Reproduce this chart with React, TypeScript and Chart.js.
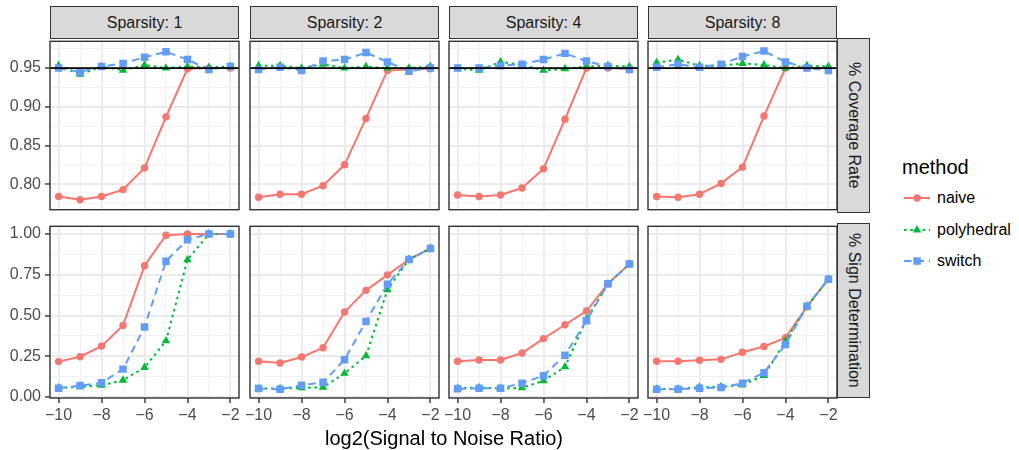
import React, { useEffect, useRef } from "react";
import { Chart, registerables } from "chart.js";

Chart.register(...registerables);

const FONT = '"Liberation Sans", Arial, Helvetica, sans-serif';

// ---------- data ----------
const snr = [-10, -9, -8, -7, -6, -5, -4, -3, -2];
const sparsityLabels = ["Sparsity: 1", "Sparsity: 2", "Sparsity: 4", "Sparsity: 8"];
const rowLabels = ["% Coverage Rate", "% Sign Determination"];
const methods = ["naive", "polyhedral", "switch"];
const coverageTarget = 0.95;

const covNaiveS1 = [0.784, 0.780, 0.784, 0.793, 0.821, 0.887, 0.949, 0.950, 0.950];
const covPolyS1 = [0.953, 0.942, 0.952, 0.947, 0.954, 0.950, 0.952, 0.951, 0.952];
const covSwitchS1 = [0.950, 0.945, 0.952, 0.956, 0.964, 0.971, 0.961, 0.948, 0.952];

const covNaiveS2 = [0.783, 0.787, 0.787, 0.798, 0.825, 0.885, 0.947, 0.948, 0.949];
const covPolyS2 = [0.953, 0.953, 0.950, 0.955, 0.950, 0.952, 0.950, 0.950, 0.952];
const covSwitchS2 = [0.948, 0.951, 0.947, 0.959, 0.961, 0.970, 0.958, 0.946, 0.950];

const covNaiveS4 = [0.786, 0.784, 0.786, 0.795, 0.820, 0.884, 0.950, 0.950, 0.949];
const covPolyS4 = [0.949, 0.947, 0.958, 0.954, 0.947, 0.949, 0.952, 0.953, 0.952];
const covSwitchS4 = [0.950, 0.950, 0.953, 0.955, 0.961, 0.969, 0.959, 0.952, 0.948];

const covNaiveS8 = [0.784, 0.783, 0.787, 0.801, 0.822, 0.888, 0.950, 0.950, 0.950];
const covPolyS8 = [0.957, 0.961, 0.953, 0.953, 0.956, 0.954, 0.950, 0.953, 0.952];
const covSwitchS8 = [0.951, 0.955, 0.951, 0.955, 0.965, 0.972, 0.958, 0.950, 0.947];

const signNaiveS1 = [0.217, 0.247, 0.312, 0.439, 0.805, 0.992, 1.0, 1.0, 1.0];
const signPolyS1 = [0.056, 0.062, 0.072, 0.103, 0.181, 0.344, 0.841, 1.0, 1.0];
const signSwitchS1 = [0.054, 0.070, 0.087, 0.171, 0.429, 0.833, 0.964, 1.0, 1.0];

const signNaiveS2 = [0.219, 0.209, 0.245, 0.302, 0.521, 0.654, 0.749, 0.843, 0.911];
const signPolyS2 = [0.052, 0.052, 0.056, 0.060, 0.145, 0.252, 0.658, 0.843, 0.911];
const signSwitchS2 = [0.052, 0.048, 0.072, 0.090, 0.229, 0.463, 0.692, 0.843, 0.911];

const signNaiveS4 = [0.219, 0.227, 0.227, 0.270, 0.358, 0.443, 0.527, 0.694, 0.815];
const signPolyS4 = [0.054, 0.058, 0.052, 0.056, 0.100, 0.185, 0.477, 0.694, 0.815];
const signSwitchS4 = [0.050, 0.054, 0.054, 0.085, 0.131, 0.256, 0.467, 0.694, 0.815];

const signNaiveS8 = [0.219, 0.219, 0.225, 0.231, 0.274, 0.310, 0.364, 0.553, 0.722];
const signPolyS8 = [0.048, 0.050, 0.060, 0.062, 0.074, 0.131, 0.342, 0.557, 0.722];
const signSwitchS8 = [0.048, 0.048, 0.054, 0.058, 0.085, 0.149, 0.322, 0.557, 0.722];

// ticks
const xMajorTicks = [-10, -8, -6, -4, -2];
const xMinorTicks = [-9, -7, -5, -3];
const covMajorTicks = [0.8, 0.85, 0.9, 0.95];
const covMinorTicks = [0.775, 0.825, 0.875, 0.925, 0.975];
const signMajorTicks = [0, 0.25, 0.5, 0.75, 1.0];
const signMinorTicks = [0.125, 0.375, 0.625, 0.875];
const xRange = [-10.4, -1.6];
const covRange = [0.767, 0.9846];
const signRange = [-0.006, 1.0465];

const coverageData = [
  [covNaiveS1, covPolyS1, covSwitchS1],
  [covNaiveS2, covPolyS2, covSwitchS2],
  [covNaiveS4, covPolyS4, covSwitchS4],
  [covNaiveS8, covPolyS8, covSwitchS8],
];
const signData = [
  [signNaiveS1, signPolyS1, signSwitchS1],
  [signNaiveS2, signPolyS2, signSwitchS2],
  [signNaiveS4, signPolyS4, signSwitchS4],
  [signNaiveS8, signPolyS8, signSwitchS8],
];

// ---------- style ----------
const methodColors = ["#F8766D", "#00BA38", "#619CFF"];
const methodDash = [[], [2.6, 3.6], [7.5, 5]];
const methodPoint = ["circle", "triangle", "rect"];
const methodRadius = [3.7, 4.9, 5.3];

const PANEL_LEFTS = [50, 250, 449, 648];
const PANEL_W = 189;
const PANEL_TOPS = [38, 223];
const PANEL_H = 175;
const STRIP_COL = "#D9D9D9";
const BORDER = "#333333";

const isIn = (arr: number[], v: number) => arr.some((m) => Math.abs(m - v) < 1e-9);
const fmtX = (v: number) => (v < 0 ? "\u2212" + Math.abs(v) : String(v));

const borderPlugin = {
  id: "panelBorder",
  afterDatasetsDraw(chart: any) {
    const { ctx, chartArea: a } = chart;
    ctx.save();
    ctx.strokeStyle = BORDER;
    ctx.lineWidth = 1.4;
    ctx.strokeRect(a.left, a.top, a.right - a.left, a.bottom - a.top);
    ctx.restore();
  },
};

function Panel({ row, col }: { row: number; col: number }) {
  const ref = useRef<HTMLCanvasElement>(null);
  const padL = col === 0 ? 50 : 10;
  const padR = 6;
  const padT = 2;
  const padB = row === 1 ? 32 : 2;
  const w = padL + PANEL_W + padR;
  const h = padT + PANEL_H + padB;

  useEffect(() => {
    if (!ref.current) return;
    const series = row === 0 ? coverageData[col] : signData[col];
    const yMajor = row === 0 ? covMajorTicks : signMajorTicks;
    const yMinor = row === 0 ? covMinorTicks : signMinorTicks;
    const yRange = row === 0 ? covRange : signRange;
    const yTicks = [...yMajor, ...yMinor].sort((a, b) => a - b);
    const xTicks = [...xMajorTicks, ...xMinorTicks].sort((a, b) => a - b);

    const datasets: any[] = methods.map((m, i) => ({
      label: m,
      data: snr.map((x, k) => ({ x, y: series[i][k] })),
      borderColor: methodColors[i],
      backgroundColor: methodColors[i],
      borderWidth: 2,
      borderDash: methodDash[i],
      pointStyle: methodPoint[i],
      pointRadius: methodRadius[i],
      pointHoverRadius: methodRadius[i],
      pointBackgroundColor: methodColors[i],
      pointBorderColor: methodColors[i],
      pointBorderWidth: 0,
      tension: 0,
      fill: false,
      order: 3 - i,
    }));
    if (row === 0) {
      datasets.push({
        label: "target",
        data: [
          { x: xRange[0], y: coverageTarget },
          { x: xRange[1], y: coverageTarget },
        ],
        borderColor: "#000000",
        borderWidth: 1.8,
        pointRadius: 0,
        fill: false,
        order: 0,
      });
    }

    const chart = new Chart(ref.current, {
      type: "line",
      data: { datasets },
      plugins: [borderPlugin],
      options: {
        animation: false,
        responsive: false,
        events: [],
        layout: { padding: { top: padT, right: padR, left: 0, bottom: 0 } },
        plugins: {
          legend: { display: false },
          tooltip: { enabled: false },
          title: { display: false },
        },
        scales: {
          x: {
            type: "linear",
            min: xRange[0],
            max: xRange[1],
            bounds: "data",
            afterBuildTicks: (s: any) => {
              s.ticks = xTicks.map((v) => ({ value: v }));
            },
            afterFit: (s: any) => {
              s.height = padB;
              s.paddingLeft = 0;
              s.paddingRight = 0;
              s.paddingTop = 0;
              s.paddingBottom = 0;
            },
            grid: {
              color: (c: any) => (isIn(xMajorTicks, c.tick?.value) ? "#EBEBEB" : "#F2F2F2"),
              lineWidth: (c: any) => (isIn(xMajorTicks, c.tick?.value) ? 1.9 : 1),
              drawTicks: row === 1,
              tickLength: 5,
              tickWidth: 1.4,
              tickColor: (c: any) => (isIn(xMajorTicks, c.tick?.value) ? BORDER : "rgba(0,0,0,0)"),
            },
            border: { display: false },
            ticks: {
              display: row === 1,
              autoSkip: false,
              maxRotation: 0,
              minRotation: 0,
              padding: 3,
              color: "#4D4D4D",
              font: { family: FONT, size: 16 },
              callback: (v: any) => (isIn(xMajorTicks, Number(v)) ? fmtX(Number(v)) : ""),
            },
          },
          y: {
            type: "linear",
            min: yRange[0],
            max: yRange[1],
            bounds: "data",
            afterBuildTicks: (s: any) => {
              s.ticks = yTicks.map((v) => ({ value: v }));
            },
            afterFit: (s: any) => {
              s.width = padL;
              s.paddingLeft = 0;
              s.paddingRight = 0;
              s.paddingTop = 0;
              s.paddingBottom = 0;
            },
            grid: {
              color: (c: any) => (isIn(yMajor, c.tick?.value) ? "#EBEBEB" : "#F2F2F2"),
              lineWidth: (c: any) => (isIn(yMajor, c.tick?.value) ? 1.9 : 1),
              drawTicks: col === 0,
              tickLength: 5,
              tickWidth: 1.4,
              tickColor: (c: any) => (isIn(yMajor, c.tick?.value) ? BORDER : "rgba(0,0,0,0)"),
            },
            border: { display: false },
            ticks: {
              display: col === 0,
              autoSkip: false,
              padding: 4,
              color: "#4D4D4D",
              font: { family: FONT, size: 16 },
              callback: (v: any) => (isIn(yMajor, Number(v)) ? Number(v).toFixed(2) : ""),
            },
          },
        },
      } as any,
    });
    return () => chart.destroy();
  }, [row, col]);

  return (
    <canvas
      ref={ref}
      width={w}
      height={h}
      style={{
        position: "absolute",
        left: PANEL_LEFTS[col] - padL,
        top: PANEL_TOPS[row] - padT,
        width: w,
        height: h,
      }}
    />
  );
}

function LegendKey({ i }: { i: number }) {
  const c = methodColors[i];
  const dash = methodDash[i].length ? methodDash[i].join(" ") : undefined;
  let marker: any;
  if (i === 0) marker = <circle cx={14} cy={10} r={3.7} fill={c} />;
  else if (i === 1) marker = <polygon points="14,5.1 18.2,12.4 9.8,12.4" fill={c} />;
  else marker = <rect x={10.3} y={6.3} width={7.5} height={7.5} fill={c} />;
  return (
    <svg width={28} height={20} style={{ position: "absolute", left: 0, top: 0 }}>
      <line x1={1} y1={10} x2={27} y2={10} stroke={c} strokeWidth={2} strokeDasharray={dash} />
      {marker}
    </svg>
  );
}

export default function App() {
  const keyCenters = [198, 230, 261];
  return (
    <div
      style={{
        position: "fixed",
        left: 0,
        top: 0,
        width: 1019,
        height: 450,
        background: "#FFFFFF",
        overflow: "hidden",
        fontFamily: FONT,
      }}
    >
      {sparsityLabels.map((s, c) => (
        <div
          key={"strip" + c}
          style={{
            position: "absolute",
            left: PANEL_LEFTS[c],
            top: 6,
            width: PANEL_W,
            height: 33,
            boxSizing: "border-box",
            background: STRIP_COL,
            border: `1.4px solid ${BORDER}`,
            color: "#1A1A1A",
            fontSize: 16,
            display: "flex",
            alignItems: "center",
            justifyContent: "center",
          }}
        >
          {s}
        </div>
      ))}
      {rowLabels.map((s, r) => (
        <div
          key={"rstrip" + r}
          style={{
            position: "absolute",
            left: 837,
            top: PANEL_TOPS[r],
            width: 33,
            height: PANEL_H,
            boxSizing: "border-box",
            background: STRIP_COL,
            border: `1.4px solid ${BORDER}`,
            color: "#1A1A1A",
            fontSize: 16,
            display: "flex",
            alignItems: "center",
            justifyContent: "center",
          }}
        >
          <span style={{ writingMode: "vertical-rl", whiteSpace: "nowrap" }}>{s}</span>
        </div>
      ))}
      {[0, 1].map((r) =>
        [0, 1, 2, 3].map((c) => <Panel key={`p${r}${c}`} row={r} col={c} />)
      )}
      <div
        style={{
          position: "absolute",
          left: 144,
          width: 600,
          top: 427,
          lineHeight: "22px",
          fontSize: 20,
          textAlign: "center",
          color: "#000000",
          whiteSpace: "nowrap",
        }}
      >
        log2(Signal to Noise Ratio)
      </div>
      <div
        style={{
          position: "absolute",
          left: 902,
          top: 156,
          lineHeight: "22px",
          fontSize: 20,
          color: "#000000",
        }}
      >
        method
      </div>
      {methods.map((m, i) => (
        <div key={"lg" + m}>
          <div style={{ position: "absolute", left: 903, top: keyCenters[i] - 10, width: 28, height: 20 }}>
            <LegendKey i={i} />
          </div>
          <div
            style={{
              position: "absolute",
              left: 937,
              top: keyCenters[i] - 9,
              lineHeight: "18px",
              fontSize: 16,
              color: "#000000",
              whiteSpace: "nowrap",
            }}
          >
            {m}
          </div>
        </div>
      ))}
    </div>
  );
}
